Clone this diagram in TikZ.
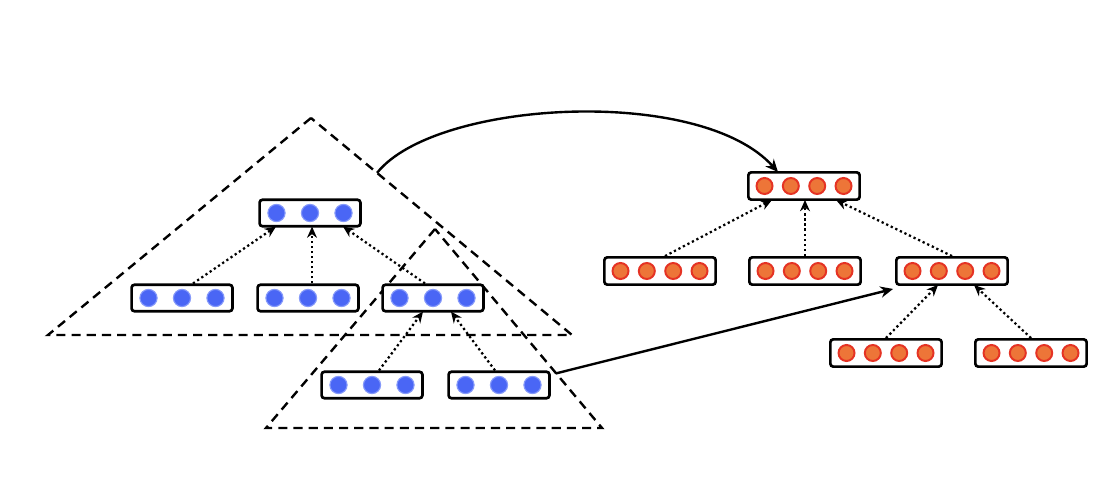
\documentclass[tikz,border=0pt]{standalone}
\usepackage{xcolor}
\definecolor{DotBlue}{rgb}{0.29, 0.40, 0.96}
\definecolor{DotBlueEdge}{rgb}{0.52, 0.60, 0.98}
\definecolor{DotOrange}{rgb}{0.93, 0.46, 0.22}
\definecolor{DotRed}{rgb}{0.90, 0.20, 0.14}
\usepackage{tikz}
\usetikzlibrary{positioning,calc,arrows.meta}

\tikzset{
	vecbox/.style={draw, line width=1.9pt, rounded corners=2pt, fill=white, inner sep=0pt},
	bluebox/.style={vecbox, minimum width=2.52cm, minimum height=0.66cm},
	redbox/.style={vecbox, minimum width=2.78cm, minimum height=0.68cm},
	subtree/.style={line width=1.7pt, dash pattern=on 6.5pt off 4.3pt},
	childof/.style={dotted, line width=1.6pt, -{Stealth[length=8pt, width=7pt]}},
	link/.style={line width=1.7pt, -{Stealth[length=9pt, width=8pt]}}
}

% dots inside the vector boxes
\newcommand{\bluedots}[1]{%
	\foreach \dx in {-33.5,0,33.5}
		\filldraw[fill=DotBlue, draw=DotBlueEdge, line width=0.8pt] ($(#1)+(\dx,0)$) circle (0.215cm);}
\newcommand{\reddots}[1]{%
	\foreach \dx in {-39.5,-13.2,13.2,39.5}
		\filldraw[fill=DotOrange, draw=DotRed, line width=1.4pt] ($(#1)+(\dx,0)$) circle (0.2cm);}

\begin{document}
\begin{tikzpicture}[x=0.025cm, y=-0.025cm]
	\useasboundingbox (0,0) rectangle (1112,478);

	% subtrees
	\coordinate (A1) at (311,118);
	\coordinate (L1) at (48,335);
	\coordinate (R1) at (572,335);
	\coordinate (A2) at (435,229);
	\coordinate (L2) at (266,428);
	\coordinate (R2) at (602,428);
	\draw[subtree] (A1) -- (L1) -- (R1) -- cycle;
	\draw[subtree] (A2) -- (L2) -- (R2) -- cycle;

	% blue tree
	\node[bluebox] (b0) at (310,213) {};
	\node[bluebox] (b1) at (182,298) {};
	\node[bluebox] (b2) at (308,298) {};
	\node[bluebox] (b3) at (433,298) {};
	\node[bluebox] (b4) at (372,385) {};
	\node[bluebox] (b5) at (499,385) {};
	\foreach \n in {b0,b1,b2,b3,b4,b5} {\bluedots{\n}}

	% red tree
	\node[redbox] (r0) at (804,186) {};
	\node[redbox] (r1) at (660,271) {};
	\node[redbox] (r2) at (805,271) {};
	\node[redbox] (r3) at (952,271) {};
	\node[redbox] (r4) at (886,353) {};
	\node[redbox] (r5) at (1031,353) {};
	\foreach \n in {r0,r1,r2,r3,r4,r5} {\reddots{\n}}

	% child to parent
	\draw[childof] ($(b1.north)+(11,0)$) -- ($(b0.south)+(-34,-1)$);
	\draw[childof] ($(b2.north)+(4,0)$) -- ($(b0.south)+(2,-1)$);
	\draw[childof] ($(b3.north)+(-8,0)$) -- ($(b0.south)+(33,-1)$);
	\draw[childof] ($(b4.north)+(7,0)$) -- ($(b3.south)+(-10,-1)$);
	\draw[childof] ($(b5.north)+(-4,0)$) -- ($(b3.south)+(18,-1)$);
	\draw[childof] ($(r1.north)+(5,0)$) -- ($(r0.south)+(-32,-1)$);
	\draw[childof] (r2.north) -- ($(r0.south)+(1,-1)$);
	\draw[childof] (r3.north) -- ($(r0.south)+(32,-1)$);
	\draw[childof] (r4.north) -- ($(r3.south)+(-14,-1)$);
	\draw[childof] (r5.north) -- ($(r3.south)+(22,-1)$);

	% mapping
	\draw[link] ($(A1)!0.253!(R1)$) .. controls (435,100) and (700,85) .. ($(r0.north)+(-26,1)$);
	\draw[link] ($(b5.north east)+(5,3)$) -- ($(r3.south west)+(-2,3)$);
\end{tikzpicture}
\end{document}
